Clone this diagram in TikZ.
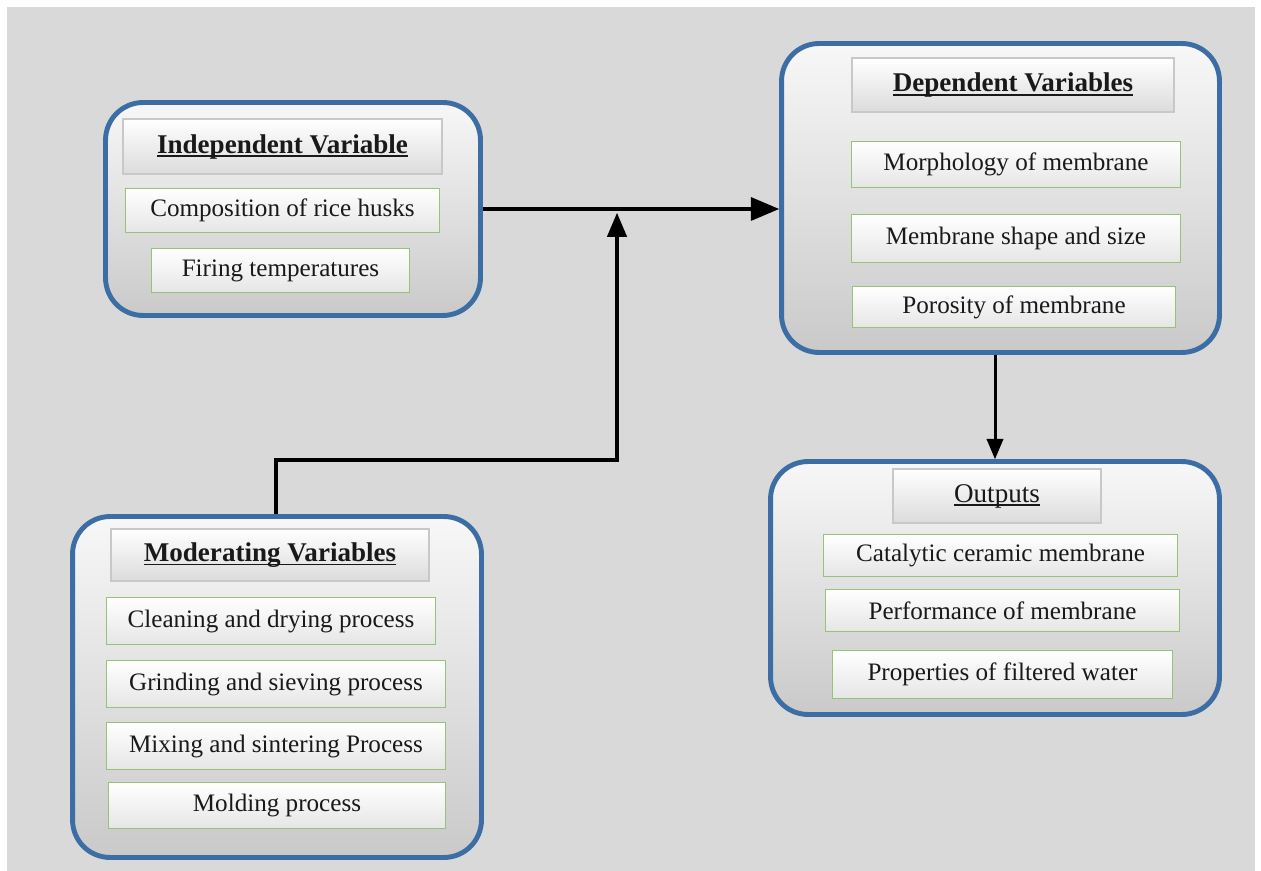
\documentclass[tikz,border=0pt]{standalone}
\usepackage{fontspec}
\setmainfont{Liberation Serif}
\usetikzlibrary{arrows}
\definecolor{boxblue}{RGB}{60,110,165}
\definecolor{bggray}{RGB}{217,217,217}
\definecolor{itemgreen}{RGB}{150,195,120}
\definecolor{headgray}{RGB}{200,200,200}
\newcommand{\ulhead}[1]{\setbox0\hbox{#1}\rlap{\rule[-2.3pt]{\wd0}{1pt}}\box0}
\tikzset{
	bigbox/.style={draw=boxblue,line width=2.8pt,rounded corners=0.75cm,
		top color=gray!6,bottom color=gray!42},
	headbox/.style={draw=headgray,line width=1.4pt,top color=white,bottom color=gray!28,
		font=\fontsize{15.4}{18}\selectfont,text=black!90},
	itembox/.style={draw=itemgreen,line width=0.8pt,top color=white,bottom color=gray!20,
		font=\fontsize{14.3}{17}\selectfont,text=black!90},
	link/.style={->,draw=black,line width=2.2pt}
}
\begin{document}
\begin{tikzpicture}[line cap=butt,line join=miter,>
		=triangle 45,x=0.02cm,y=-0.02cm]
	\useasboundingbox (0,0) rectangle (1261,871);
	\fill[white] (0,0) rectangle (1261,871);
	\fill[bggray] (7,7) rectangle (1255,871);%sfondo
	% grandi riquadri
	\node[bigbox,minimum width=7.5cm,minimum height=4.26cm] (indep) at (293,209) {};
	\node[bigbox,minimum width=8.76cm,minimum height=6.18cm] (dep) at (1000.5,198) {};
	\node[bigbox,minimum width=8.18cm,minimum height=6.82cm] (mod) at (277,687) {};
	\node[bigbox,minimum width=8.98cm,minimum height=5.06cm] (out) at (995,588) {};
	% titoli
	\node[headbox,minimum width=6.38cm,minimum height=1.1cm] (indephead) at (282.5,146.5) {\ulhead{\textbf{Independent Variable}}};
	\node[headbox,minimum width=6.44cm,minimum height=1.08cm] (dephead) at (1013,85) {\ulhead{\textbf{Dependent Variables}}};
	\node[headbox,minimum width=6.36cm,minimum height=1.04cm] (modhead) at (270,555) {\ulhead{\textbf{Moderating Variables}}};
	\node[headbox,minimum width=4.16cm,minimum height=1.08cm] (outhead) at (997,496) {\ulhead{Outputs}};
	% voci
	\node[itembox,minimum width=6.28cm,minimum height=0.88cm] (comp) at (282.5,210.5) {Composition of rice husks};
	\node[itembox,minimum width=5.16cm,minimum height=0.88cm] (firing) at (280.5,270.5) {Firing temperatures};
	\node[itembox,minimum width=6.58cm,minimum height=0.92cm] (morph) at (1016,164.5) {Morphology of membrane};
	\node[itembox,minimum width=6.58cm,minimum height=0.96cm] (shape) at (1016,238.5) {Membrane shape and size};
	\node[itembox,minimum width=6.46cm,minimum height=0.82cm] (poros) at (1014,307) {Porosity of membrane};
	\node[itembox,minimum width=6.58cm,minimum height=0.94cm] (clean) at (271,621) {Cleaning and drying process};
	\node[itembox,minimum width=6.78cm,minimum height=0.94cm] (grind) at (276,684) {Grinding and sieving process};
	\node[itembox,minimum width=6.78cm,minimum height=0.94cm] (mix) at (276,746) {Mixing and sintering Process};
	\node[itembox,minimum width=6.74cm,minimum height=0.92cm] (mold) at (277,805.5) {Molding process};
	\node[itembox,minimum width=7.08cm,minimum height=0.84cm] (cat) at (1000.5,555.5) {Catalytic ceramic membrane};
	\node[itembox,minimum width=7.08cm,minimum height=0.84cm] (perf) at (1002.5,610.5) {Performance of membrane};
	\node[itembox,minimum width=6.8cm,minimum height=0.96cm] (prop) at (1002.5,674.5) {Properties of filtered water};
	% frecce
	\coordinate (mj) at (276,460);%gomito
	\coordinate (hj) at (617,213);
	\draw[link,line width=2.8pt] (indep) -- (indep -| dep.west);
	\draw[link] (mj |- mod.north) -- (mj) -| (hj);
	\draw[link,line width=1.7pt] (out.north |- dep.south) -- (out.north);
\end{tikzpicture}
\end{document}
